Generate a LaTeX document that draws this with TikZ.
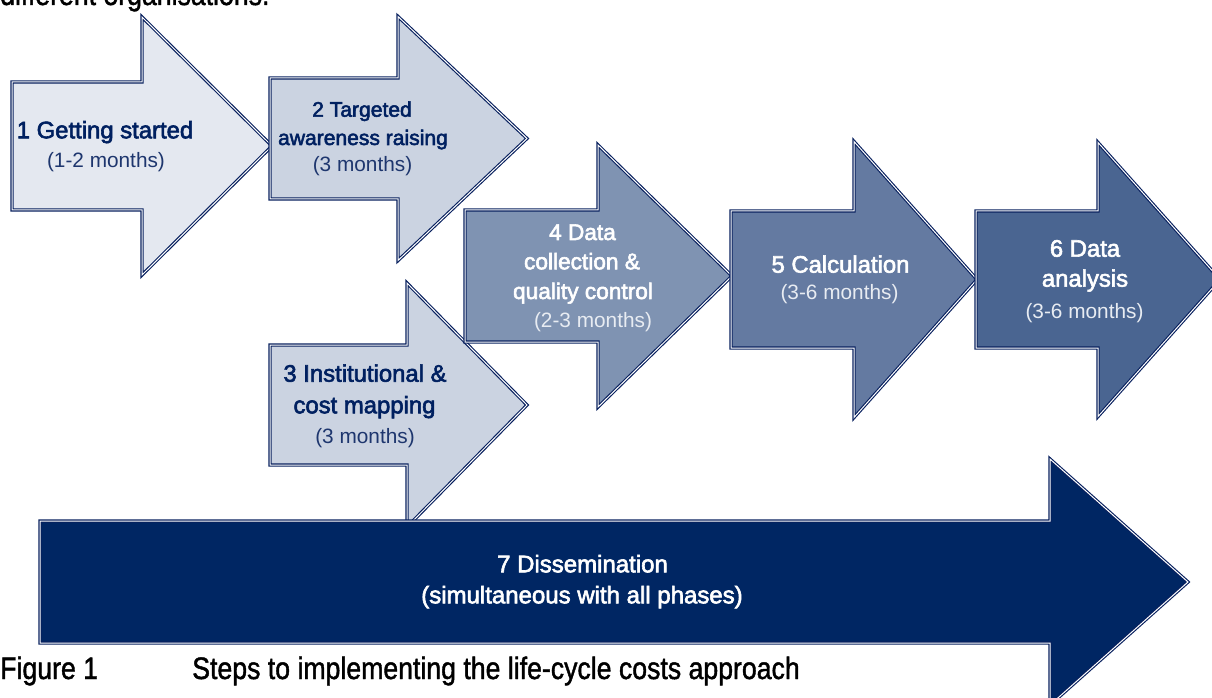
\documentclass[tikz,border=0pt]{standalone}
\usepackage{fontspec}
\setmainfont{Liberation Sans}
\newfontface\stepfont{Liberation Sans}[FakeBold=2.5]
\newfontface\capfont{Liberation Sans}[FakeBold=1.5]

\definecolor{lineblue}{RGB}{8,32,94}
\definecolor{textblue}{RGB}{0,32,96}
\definecolor{noteblue}{RGB}{30,54,110}
\definecolor{fillA}{RGB}{228,232,240}
\definecolor{fillB}{RGB}{203,211,225}
\definecolor{fillC}{RGB}{127,147,178}
\definecolor{fillD}{RGB}{100,122,161}
\definecolor{fillE}{RGB}{74,101,145}
\definecolor{fillF}{RGB}{0,38,99}
\definecolor{notewhite}{RGB}{232,236,242}

% block arrow: fill, left, neck, tip, middle, half body, half head
\newcommand{\steparrow}[7]{%
  \draw[arrowline,fill=#1] (#2,#5-#6) -- (#3,#5-#6) -- (#3,#5-#7) -- (#4,#5)
    -- (#3,#5+#7) -- (#3,#5+#6) -- (#2,#5+#6) -- cycle;}

\begin{document}
\begin{tikzpicture}[x=0.75pt,y=-0.75pt,
  arrowline/.style={draw=lineblue,line width=0.85pt,double=white,double distance=0.75pt,line join=miter},
  lbl/.style={anchor=base,inner sep=0pt},
  steptitle/.style={lbl,font=\stepfont\fontsize{#1}{#1}\selectfont},
  steptitle/.default=17.9,
  stepnote/.style={lbl,font=\fontsize{15.6}{18}\selectfont},
  darktext/.style={text=textblue},
  darknote/.style={text=noteblue},
  lighttext/.style={text=white},
  lightnote/.style={text=notewhite},
  caption/.style={anchor=base west,inner sep=0pt,font=\capfont\fontsize{23.25}{26}\selectfont}]

\useasboundingbox (0,0) rectangle (1212,698);
\clip (0,0) rectangle (1212,698);

% running text above the figure
\node[caption] (run) at (0,5) {\scalebox{0.86}[1]{different organisations.}};

% the seven phases
\steparrow{fillA}{12}{142}{272}{146}{64}{129}
\steparrow{fillB}{270}{398}{527}{138.5}{60.5}{122}
\steparrow{fillB}{270}{407}{527}{405}{60}{122}
\steparrow{fillC}{465}{598}{732}{276}{66}{131}
\steparrow{fillD}{731}{854}{977}{279.5}{68.5}{138}
\steparrow{fillE}{976}{1098}{1220}{279.5}{68.5}{137}
\steparrow{fillF}{40}{1050}{1188}{582}{61}{123}

% labels
\node[steptitle,darktext] (s1) at (105,138.3) {1 Getting started};
\node[stepnote,darknote] (s1m) at (106,167.3) {(1-2 months)};

\node[steptitle=15.8,darktext] (s2) at (362,116.7) {2 Targeted};
\node[steptitle=15.8,darktext] (s2b) at (363,145) {awareness raising};
\node[stepnote,darknote] (s2m) at (362.5,171.7) {(3 months)};

\node[steptitle,darktext] (s3) at (365,381.7) {3 Institutional \&};
\node[steptitle,darktext] (s3b) at (364.5,413.3) {cost mapping};
\node[stepnote,darknote] (s3m) at (365,443.3) {(3 months)};

\node[steptitle=17,lighttext] (s4) at (582.5,240) {4 Data};
\node[steptitle=17,lighttext] (s4b) at (582,269.3) {collection \&};
\node[steptitle=17,lighttext] (s4c) at (583,299) {quality control};
\node[stepnote,lightnote] (s4m) at (593,327.7) {(2-3 months)};

\node[steptitle,lighttext] (s5) at (840.5,272.7) {5 Calculation};
\node[stepnote,lightnote] (s5m) at (839.5,300) {(3-6 months)};

\node[steptitle,lighttext] (s6) at (1085,256.7) {6 Data};
\node[steptitle,lighttext] (s6b) at (1085,286.7) {analysis};
\node[stepnote,lightnote] (s6m) at (1084.5,318.3) {(3-6 months)};

\node[steptitle=18,lighttext] (s7) at (582.5,572.3) {7 Dissemination};
\node[steptitle=18,lighttext] (s7m) at (582,603.3) {(simultaneous with all phases)};

% caption
\node[caption] (fig) at (0,679) {\scalebox{0.86}[1]{Figure 1}};
\node[caption] (figtext) at (192,679) {\scalebox{0.86}[1]{Steps to implementing the life-cycle costs approach}};

\end{tikzpicture}
\end{document}
